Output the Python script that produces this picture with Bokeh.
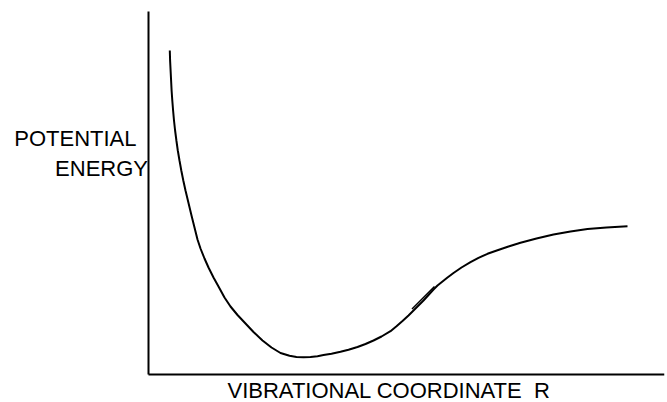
from bokeh.plotting import figure
from bokeh.models import Range1d, Label, LinearAxis, FixedTicker
from bokeh.embed import file_html
from bokeh.resources import INLINE

# Potential energy curve (vibrational coordinate R, energy V; arbitrary units)
R = [21.3, 21.6, 22.1, 22.6, 23.1, 23.8, 24.6, 25.5, 26.6, 27.9, 29.3, 31.0, 32.8,
     34.8, 37, 40, 43, 46, 49, 52, 56, 60, 65, 70, 76, 82, 89, 97, 105, 114, 123,
     132, 141, 148, 155, 162, 169, 175, 183, 192, 200, 209, 217, 225, 233, 242,
     248, 254, 260, 265, 270, 275, 280, 285, 289, 294, 299, 305, 313, 322, 330,
     339, 349, 360, 372, 388, 405, 422, 439, 458, 479]
V = [324, 314, 304, 294, 284, 274, 264, 254, 244, 234, 224, 214, 204, 194, 184,
     171.5, 159, 147, 135, 126, 116, 107, 97, 88, 77, 68, 59.5, 51, 42.5, 34, 27,
     21.5, 18.7, 17.6, 17.3, 17.5, 18.3, 19.4, 20.8, 22.7, 24.8, 27.5, 30.5, 34,
     38, 43.3, 48.2, 53.5, 59, 64, 69, 74, 79.5, 85, 89, 93, 97, 101.5, 107, 112.3,
     116.7, 120.7, 124.3, 128, 131.7, 136, 140, 143, 145.5, 147, 148.2]

# short overlapping pen stroke where the hand-drawn curve was joined
R_join = [263.5, 273.5, 286]
V_join = [65.5, 75.5, 88]

R_axis_end = 516
V_axis_end = 363

y_label_lines = ["POTENTIAL", "ENERGY"]
x_label = "VIBRATIONAL COORDINATE \u00a0R"

FONT = "Liberation Sans"
FS = "22px"

p = figure(width=667, height=402, output_backend="svg", toolbar_location=None,
           x_range=Range1d(-148, 516), y_range=Range1d(-28, 371),
           x_axis_location=None, y_axis_location=None,
           min_border_left=0, min_border_bottom=0,
           min_border_right=3, min_border_top=3)
p.background_fill_color = "white"
p.border_fill_color = "white"
p.outline_line_color = None
p.grid.visible = False


def make_axis(bounds):
    ax = LinearAxis(fixed_location=0, bounds=bounds, ticker=FixedTicker(ticks=[]))
    ax.axis_line_width = 2
    ax.axis_line_color = "black"
    ax.major_tick_line_color = None
    ax.minor_tick_line_color = None
    ax.major_tick_out = 0
    ax.major_tick_in = 0
    ax.minor_tick_out = 0
    ax.minor_tick_in = 0
    ax.major_label_standoff = 0
    return ax


p.add_layout(make_axis((0, R_axis_end)), "above")
p.add_layout(make_axis((0, V_axis_end)), "right")

p.line(R, V, line_color="black", line_width=2)
p.line(R_join, V_join, line_color="black", line_width=1.5)

p.add_layout(Label(x=-12, y=236, text=y_label_lines[0], text_align="right",
                   text_baseline="alphabetic", text_font=FONT, text_font_size=FS,
                   text_color="black"))
p.add_layout(Label(x=-0.5, y=206, text=y_label_lines[1], text_align="right",
                   text_baseline="alphabetic", text_font=FONT, text_font_size=FS,
                   text_color="black"))
p.add_layout(Label(x=79, y=-16, text=x_label, text_align="left",
                   text_baseline="alphabetic", text_font=FONT, text_font_size=FS,
                   text_color="black"))

open("out.html", "w").write(file_html(p, INLINE))
